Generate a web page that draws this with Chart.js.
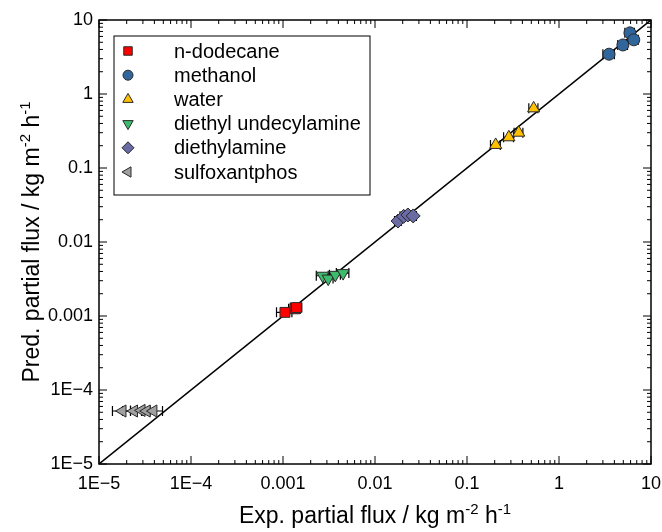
<!DOCTYPE html>
<html>
<head>
<meta charset="utf-8">
<script src="https://cdn.jsdelivr.net/npm/chart.js@4.4.1/dist/chart.umd.min.js"></script>
<style>
  html, body { margin: 0; padding: 0; background: #fff; }
</style>
</head>
<body>
<canvas id="c" width="662" height="532"></canvas>
<script>
// measured vs predicted partial flux, kg m-2 h-1
const dodecaneX = [0.00105, 0.00135, 0.0014]
const dodecaneY = [0.00112, 0.00125, 0.0013]
const dodecaneErr = [0.0002, 0.0002, 0.0002]

const methanolX = [3.5, 4.95, 5.9, 6.5]
const methanolY = [3.45, 4.6, 6.7, 5.4]
const methanolErr = [0.5, 0.6, 0.7, 0.8]

const waterX = [0.205, 0.285, 0.365, 0.53]
const waterY = [0.205, 0.26, 0.3, 0.64]
const waterErr = [0.025, 0.035, 0.04, 0.06]

const undecylX = [0.0027, 0.0031, 0.0037, 0.0045]
const undecylY = [0.0035, 0.0032, 0.0036, 0.0038]
const undecylErr = [0.0004, 0.0004, 0.0005, 0.0007]

const diethylX = [0.0178, 0.0205, 0.0228, 0.026]
const diethylY = [0.0192, 0.0222, 0.0232, 0.0225]
const diethylErr = [0.0015, 0.0018, 0.002, 0.0022]

const sulfoX = [0.000018, 0.000024, 0.000029, 0.000033, 0.000039]
const sulfoY = [0.000052, 0.000052, 0.000053, 0.000052, 0.000052]
const sulfoErr = [0.000004, 0.000006, 0.000007, 0.000008, 0.00001]

const parityLine = [0.00001, 10]

const tickValues = [0.00001, 0.0001, 0.001, 0.01, 0.1, 1, 10]
const tickLabels = ['1E\u22125', '1E\u22124', '0.001', '0.01', '0.1', '1', '10']

const FONT = '"Liberation Sans", Arial, sans-serif'

const pts = (xs, ys) => xs.map((x, i) => ({ x, y: ys[i] }))

function series(label, xs, ys, err, style, color, rotation = 0) {
  return {
    label, data: pts(xs, ys), err,
    pointStyle: style, rotation, pointRotation: rotation,
    pointRadius: style === 'circle' ? 6 : 7,
    backgroundColor: color, borderColor: '#2a2a2a', borderWidth: 1,
    showLine: false, order: 0
  }
}

const datasets = [
  series('n-dodecane', dodecaneX, dodecaneY, dodecaneErr, 'rect', '#ff0000'),
  series('methanol', methanolX, methanolY, methanolErr, 'circle', '#30669c'),
  series('water', waterX, waterY, waterErr, 'triangle', '#ffc000'),
  series('diethyl undecylamine', undecylX, undecylY, undecylErr, 'triangle', '#3dbb6c', 180),
  series('diethylamine', diethylX, diethylY, diethylErr, 'rectRot', '#6a6aa4'),
  series('sulfoxantphos', sulfoX, sulfoY, sulfoErr, 'triangle', '#a0a0a0', 270),
  {
    label: 'parity', data: pts(parityLine, parityLine), showLine: true,
    borderColor: '#000', borderWidth: 1.5, pointRadius: 0, order: 10
  }
]

function richText(ctx, parts, cx, cy) {
  const big = '23px ' + FONT, small = '15px ' + FONT
  let w = 0
  parts.forEach(p => { ctx.font = p[1] ? small : big; w += ctx.measureText(p[0]).width })
  let x = cx - w / 2
  parts.forEach(p => {
    ctx.font = p[1] ? small : big
    ctx.fillText(p[0], x, p[1] ? cy - 9 : cy)
    x += ctx.measureText(p[0]).width
  })
}

const frame = {
  id: 'frame',
  beforeDatasetsDraw(chart) {
    const { ctx, scales: { x, y } } = chart
    ctx.save()
    ctx.strokeStyle = '#000'
    ctx.lineWidth = 1.2
    chart.data.datasets.forEach(ds => {
      if (!ds.err) return
      ds.data.forEach((p, i) => {
        const x1 = x.getPixelForValue(p.x - ds.err[i])
        const x2 = x.getPixelForValue(p.x + ds.err[i])
        const py = y.getPixelForValue(p.y)
        ctx.beginPath()
        ctx.moveTo(x1, py); ctx.lineTo(x2, py)
        ctx.moveTo(x1, py - 5); ctx.lineTo(x1, py + 5)
        ctx.moveTo(x2, py - 5); ctx.lineTo(x2, py + 5)
        ctx.stroke()
      })
    })
    ctx.restore()
  },
  afterDraw(chart) {
    const { ctx, chartArea: a, scales: { x, y } } = chart
    ctx.save()
    // box
    ctx.strokeStyle = '#000'
    ctx.lineWidth = 1.5
    ctx.strokeRect(a.left, a.top, a.right - a.left, a.bottom - a.top)
    // inward ticks on all sides
    ctx.lineWidth = 1
    ctx.beginPath()
    for (let d = -5; d <= 1; d++) {
      for (let m = 1; m <= 9; m++) {
        const v = m * Math.pow(10, d)
        if (v > 10.0001) break
        const len = m === 1 ? 8 : 4
        const px = x.getPixelForValue(v), py = y.getPixelForValue(v)
        ctx.moveTo(px, a.bottom); ctx.lineTo(px, a.bottom - len)
        ctx.moveTo(px, a.top); ctx.lineTo(px, a.top + len)
        ctx.moveTo(a.left, py); ctx.lineTo(a.left + len, py)
        ctx.moveTo(a.right, py); ctx.lineTo(a.right - len, py)
      }
    }
    ctx.stroke()

    // axis titles
    ctx.fillStyle = '#000'
    ctx.textAlign = 'left'
    ctx.textBaseline = 'alphabetic'
    richText(ctx, [['Exp. partial flux / kg m'], ['-2', 1], [' h'], ['-1', 1]], (a.left + a.right) / 2, 523)
    ctx.save()
    ctx.translate(39, (a.top + a.bottom) / 2)
    ctx.rotate(-Math.PI / 2)
    richText(ctx, [['Pred. partial flux / kg m'], ['-2', 1], [' h'], ['-1', 1]], 0, 0)
    ctx.restore()

    // legend
    const lx = 114, ly = 36, lw = 256, lh = 159
    ctx.fillStyle = '#fff'
    ctx.fillRect(lx, ly, lw, lh)
    ctx.strokeStyle = '#000'
    ctx.lineWidth = 1
    ctx.strokeRect(lx, ly, lw, lh)
    ctx.font = '20px ' + FONT
    ctx.textBaseline = 'middle'
    chart.data.datasets.filter(ds => ds.err).forEach((ds, i) => {
      const ry = ly + 15 + i * 24.2
      ctx.fillStyle = ds.backgroundColor
      ctx.strokeStyle = ds.borderColor
      ctx.lineWidth = 1
      Chart.helpers.drawPoint(ctx, {
        pointStyle: ds.pointStyle, rotation: ds.rotation,
        radius: ds.pointStyle === 'circle' ? 5 : 6, borderWidth: 1
      }, lx + 14, ry)
      ctx.fillStyle = '#000'
      ctx.fillText(ds.label, lx + 60, ry + 1)
    })
    ctx.restore()
  }
}

new Chart(document.getElementById('c'), {
  type: 'scatter',
  data: { datasets },
  options: {
    responsive: false,
    animation: false,
    layout: { padding: { top: 20, right: 11, left: 0, bottom: 0 } },
    plugins: { legend: { display: false }, tooltip: { enabled: false } },
    scales: {
      x: {
        type: 'logarithmic', min: 0.00001, max: 10,
        grid: { display: false, drawTicks: false }, border: { display: false },
        ticks: { color: '#000', font: { family: FONT, size: 18 }, padding: 9, maxRotation: 0, autoSkip: false,
                 callback: (v, i) => tickLabels[i] },
        afterBuildTicks: s => { s.ticks = tickValues.map(v => ({ value: v })) },
        afterFit: s => { s.height = 68; s.paddingLeft = 0; s.paddingRight = 0 }
      },
      y: {
        type: 'logarithmic', min: 0.00001, max: 10,
        grid: { display: false, drawTicks: false }, border: { display: false },
        ticks: { color: '#000', font: { family: FONT, size: 18 }, padding: 6, autoSkip: false,
                 callback: (v, i) => tickLabels[i] },
        afterBuildTicks: s => { s.ticks = tickValues.map(v => ({ value: v })) },
        afterFit: s => { s.width = 99; s.paddingTop = 0; s.paddingBottom = 0 }
      }
    }
  },
  plugins: [frame]
})
</script>
</body>
</html>
